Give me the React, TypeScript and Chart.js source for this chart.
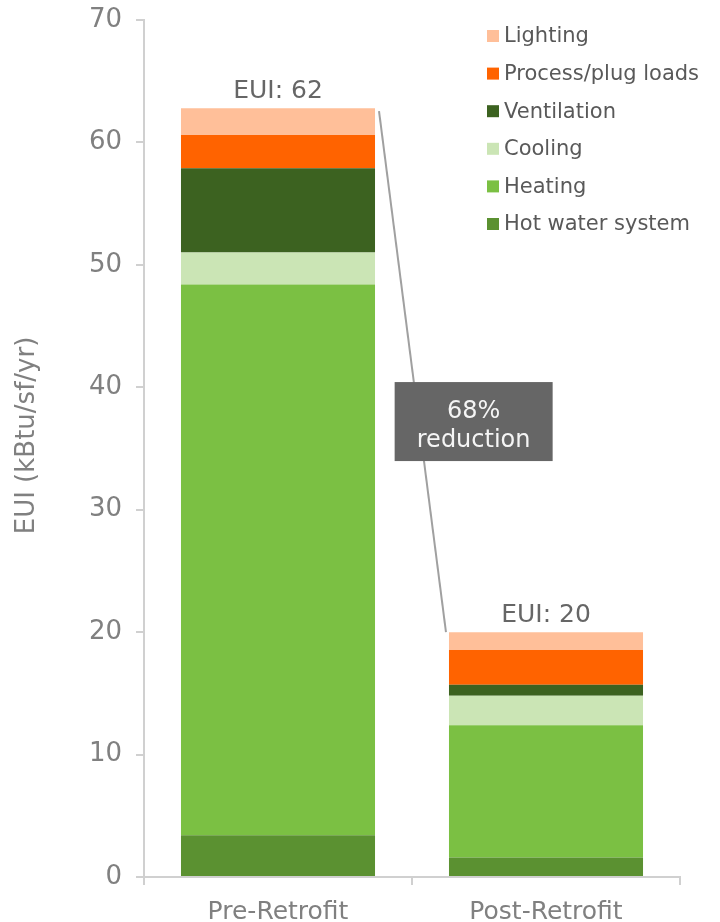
import { useEffect, useRef } from "react";
import { Chart, registerables } from "chart.js";

Chart.register(...registerables);

const categories = ["Pre-Retrofit", "Post-Retrofit"];
const seriesNames = ["Hot water system", "Heating", "Cooling", "Ventilation", "Process/plug loads", "Lighting"];
const hotWater = [3.4, 1.6];
const heating = [45.0, 10.8];
const cooling = [2.6, 2.4];
const ventilation = [6.9, 0.9];
const processPlug = [2.7, 2.85];
const lighting = [2.2, 1.45];
const euiLabels = [62, 20];
const reductionLines = ["68%", "reduction"];
const yTitle = "EUI (kBtu/sf/yr)";
const yMax = 70;
const yStep = 10;

const seriesColors = ["#5B9131", "#7BC043", "#CBE5B5", "#3C6220", "#FF6300", "#FFBF99"];
const FONT = "'DejaVu Sans', Verdana, sans-serif";

const overlayPlugin = {
  id: "overlay",
  afterDraw(chart: any) {
    const ctx = chart.ctx;
    const y = chart.scales.y;
    const x = chart.scales.x;
    const n = chart.data.datasets.length;
    const topMeta = chart.getDatasetMeta(n - 1);
    const bars = topMeta.data;
    ctx.save();
    // y title
    ctx.save();
    ctx.translate(27, (chart.chartArea.top + chart.chartArea.bottom) / 2 - 13);
    ctx.rotate(-Math.PI / 2);
    ctx.font = `26px ${FONT}`;
    ctx.fillStyle = "#808080";
    ctx.textAlign = "center";
    ctx.textBaseline = "middle";
    ctx.fillText(yTitle, 0, 0);
    ctx.restore();
    // EUI labels
    ctx.font = `25px ${FONT}`;
    ctx.fillStyle = "#666666";
    ctx.textAlign = "center";
    ctx.textBaseline = "alphabetic";
    bars.forEach((b: any, i: number) => {
      ctx.fillText(`EUI: ${euiLabels[i]}`, b.x, b.y - 10);
    });
    // connector line
    const b0 = bars[0];
    const b1 = bars[1];
    const r0 = b0.x + b0.width / 2;
    const l1 = b1.x - b1.width / 2;
    ctx.strokeStyle = "#a0a0a0";
    ctx.lineWidth = 2;
    ctx.beginPath();
    ctx.moveTo(r0 + 4, b0.y + 3);
    ctx.lineTo(l1 - 3, b1.y);
    ctx.stroke();
    // reduction box
    const cx = x.getPixelForValue(0.73);
    const cy = y.getPixelForValue(37.2);
    const bw = 158;
    const bh = 79;
    ctx.fillStyle = "#666666";
    ctx.fillRect(cx - bw / 2, cy - bh / 2, bw, bh);
    ctx.fillStyle = "#f5f5f5";
    ctx.font = `24px ${FONT}`;
    ctx.fillText(reductionLines[0], cx, cy - 4);
    ctx.fillText(reductionLines[1], cx, cy + 25);
    // legend
    ctx.textAlign = "left";
    ctx.textBaseline = "middle";
    ctx.font = `21px ${FONT}`;
    for (let k = 0; k < n; k++) {
      const ds = chart.data.datasets[n - 1 - k];
      const ly = 36 + k * 37.6;
      ctx.fillStyle = ds.backgroundColor;
      ctx.fillRect(487, ly - 6, 12, 12);
      ctx.fillStyle = "#595959";
      ctx.fillText(ds.label, 504, ly + 1);
    }
    ctx.restore();
  },
};

export default function App() {
  const ref = useRef<HTMLCanvasElement | null>(null);
  useEffect(() => {
    if (!ref.current) return;
    const values = [hotWater, heating, cooling, ventilation, processPlug, lighting];
    const chart = new Chart(ref.current, {
      type: "bar",
      data: {
        labels: categories,
        datasets: seriesNames.map((name, i) => ({
          label: name,
          data: values[i],
          backgroundColor: seriesColors[i],
          borderWidth: 0,
          categoryPercentage: 1,
          barPercentage: 0.724,
        })),
      },
      options: {
        responsive: false,
        animation: false,
        layout: { padding: { top: 20, right: 40, left: 0, bottom: 0 } },
        plugins: { legend: { display: false }, tooltip: { enabled: false } },
        scales: {
          x: {
            stacked: true,
            afterFit: (s: any) => {
              s.height = 45;
              s.paddingLeft = 0;
              s.paddingRight = 0;
            },
            grid: {
              display: true,
              drawOnChartArea: false,
              drawTicks: true,
              tickLength: 8,
              color: "#d0d0d0",
              lineWidth: 2,
              offset: true,
            },
            border: { display: true, color: "#d0d0d0", width: 2 },
            ticks: { color: "#808080", font: { family: FONT, size: 25 }, padding: 12 },
          },
          y: {
            stacked: true,
            min: 0,
            max: yMax,
            afterFit: (s: any) => {
              s.width = 144;
              s.paddingTop = 0;
              s.paddingBottom = 0;
            },
            grid: {
              display: true,
              drawOnChartArea: false,
              drawTicks: true,
              tickLength: 8,
              color: "#d0d0d0",
              lineWidth: 2,
            },
            border: { display: true, color: "#d0d0d0", width: 2 },
            ticks: { stepSize: yStep, color: "#808080", font: { family: FONT, size: 26 }, padding: 14 },
            title: { display: false },
          },
        },
      },
      plugins: [overlayPlugin],
    });
    return () => chart.destroy();
  }, []);
  return (
    <div style={{ position: "fixed", left: 0, top: 0, width: 720, height: 922, background: "#fff" }}>
      <canvas ref={ref} width={720} height={922} style={{ display: "block" }} />
    </div>
  );
}
